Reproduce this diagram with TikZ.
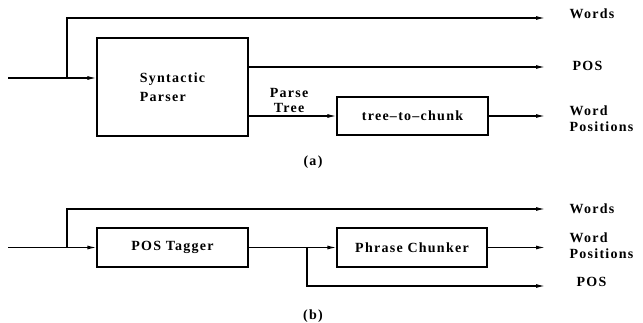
\documentclass[tikz,border=0pt]{standalone}
\usepackage{fontspec}
\setmainfont{Liberation Serif}[LetterSpace=9]
\usetikzlibrary{arrows.meta}
\newcommand\lblfont{\fontsize{14}{15.5}\selectfont\bfseries}
\begin{document}
\begin{tikzpicture}[x=1pt,y=-1pt, line width=1.2pt,
  box/.style={draw, minimum width=151pt, inner sep=0pt, font=\lblfont, align=center},
  lbl/.style={font=\lblfont, inner sep=0pt, align=left, anchor=west},
  flow/.style={-{Latex[length=9pt,width=4pt]}}]
\useasboundingbox (0,0) rectangle (643,323);
% ---------- (a) ----------
\node[box, minimum height=98pt, align=left] (sp) at (172.5,87) {Syntactic\\[4pt]Parser};
\node[box, minimum height=38pt] (tc) at (412.5,116) {tree--to--chunk};
\coordinate (ina) at (8,78);
\coordinate (bra) at (67,78);
\coordinate (wa) at (545,18);
\coordinate (pa) at (545,67);
\coordinate (wpa) at (545,116);
\draw[flow] (ina) -- (sp.west |- ina);
\draw[flow] (bra) |- (wa);
\draw[flow] (sp.east |- pa) -- (pa);
\draw[flow] (sp.east |- tc.west) -- (tc.west);
\draw[flow] (tc.east) -- (wpa);
\node[font=\lblfont, align=center, inner sep=0pt] (ptl) at (289,100.5) {Parse\\Tree};
\node[lbl] (lwa) at (569,14) {Words};
\node[lbl] (lpa) at (572,66) {POS};
\node[lbl] (lwpa) at (569,118.5) {Word\\Positions};
\node[font=\lblfont, inner sep=0pt] (capa) at (313,162) {(a)};
% ---------- (b) ----------
\node[box, minimum height=39pt] (tag) at (172.5,247.5) {POS Tagger};
\node[box, minimum height=39pt, minimum width=150pt] (pc) at (412,247.5) {Phrase Chunker};
\coordinate (inb) at (8,247.5);
\coordinate (brb) at (67,247.5);
\coordinate (wb) at (545,209);
\coordinate (brc) at (307,247.5);
\coordinate (pb) at (545,286);
\coordinate (wpb) at (545,247.5);
\draw[flow] (inb) -- (tag.west);
\draw[flow] (brb) |- (wb);
\draw[flow] (tag.east) -- (pc.west);
\draw[flow] (brc) |- (pb);
\draw[flow] (pc.east) -- (wpb);
\node[lbl] (lwb) at (569,209) {Words};
\node[lbl] (lwpb) at (569,245.5) {Word\\Positions};
\node[lbl] (lpb) at (576,282) {POS};
\node[font=\lblfont, inner sep=0pt] (capb) at (313,316) {(b)};
\end{tikzpicture}
\end{document}
